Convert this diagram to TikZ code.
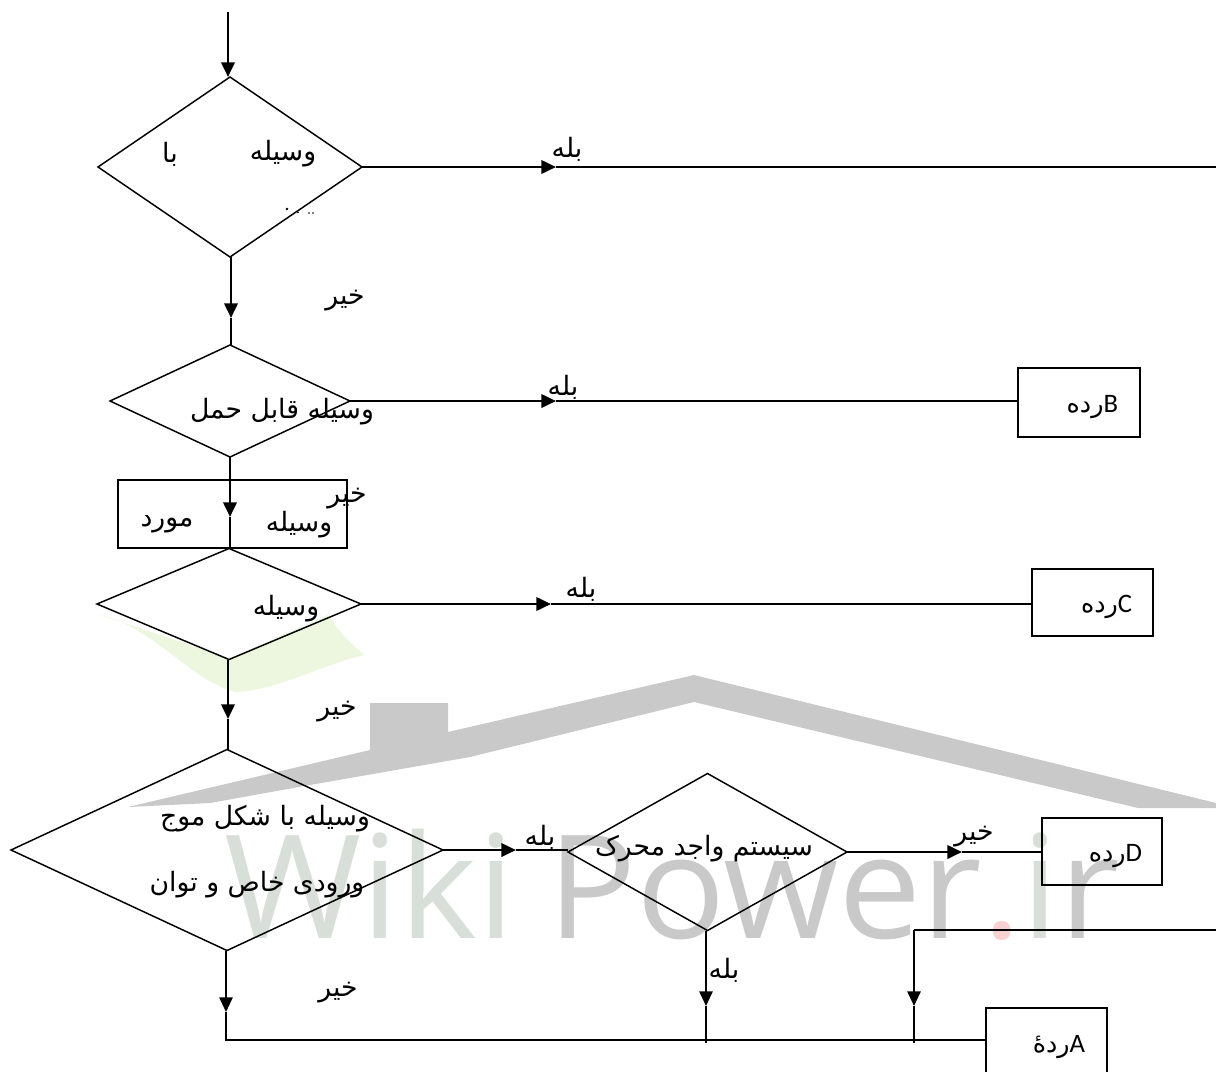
\documentclass[tikz,border=0pt]{standalone}
\usepackage{fontspec}
\usepackage{xcolor}
\usetikzlibrary{shapes.geometric,arrows.meta}
\TeXXeTstate=1
\newfontfamily\arabicfont[Script=Arabic]{DejaVu Sans}
\newfontfamily\latinbox{Carlito}
\newfontfamily\wmfont{Open Sans}
\definecolor{wmgray}{HTML}{C9C9C9}
\definecolor{wmgreen}{HTML}{D8DFD8}
\definecolor{wmred}{HTML}{F7D2D2}
\definecolor{wmleaf}{HTML}{EDF7DF}
\tikzset{
  dec/.style={shape=diamond,draw=black,line width=1.1pt,inner sep=0pt,outer sep=0pt},
  rbox/.style={shape=rectangle,draw=black,line width=1.2pt,inner sep=0pt,outer sep=0pt},
  ar/.style={inner sep=0pt,outer sep=0pt,font=\arabicfont\fontsize{20}{22}\selectfont},
  cl/.style={inner sep=0pt,outer sep=0pt,anchor=east,font=\latinbox\fontsize{20}{22}\selectfont},
  thk/.style={line width=2pt},
  thn/.style={line width=1.35pt},
  tip/.style={-{Triangle[length=11pt,width=10pt]}},
}
\newcommand{\rl}[1]{\beginR #1\endR}
\newcommand{\rada}[1]{{\arabicfont\fontsize{19}{22}\selectfont\rl{#1}}}
\begin{document}
\begin{tikzpicture}[x=0.75pt,y=-0.75pt]
\useasboundingbox (0,0) rectangle (1216,1071);
\clip (0,0) rectangle (1216,1071);
% watermark
\fill[wmleaf] (100,615) .. controls (150,625) and (190,680) .. (235,692) .. controls (280,690) and (320,665) .. (365,655) .. controls (345,640) and (335,625) .. (328,615) -- (230,658) -- cycle;
\fill[wmgray] (128,807) -- (370,750) -- (370,703) -- (448,703) -- (448,732) -- (694,675) -- (1216,803) -- (1216,808) -- (1138,808) -- (694,702) -- (470,757) -- (310,785) -- (210,803) -- cycle;
\node[anchor=base west,inner sep=0pt,text=wmgray] (wm) at (224,938)
  {\scalebox{1.03}[1]{\wmfont\fontsize{108}{120}\selectfont\textcolor{wmgreen}{Wiki}\kern 24pt Power\textcolor{wmred}{.}\textcolor{wmgreen}{i}r}};
% decisions
\node[dec,minimum width=264*0.75pt,minimum height=180*0.75pt] (d1) at (230,167) {};
\node[dec,minimum width=240*0.75pt,minimum height=112*0.75pt] (d2) at (230,401) {};
\node[dec,minimum width=264*0.75pt,minimum height=111*0.75pt] (d3) at (229,604) {};
\node[dec,minimum width=432*0.75pt,minimum height=201*0.75pt] (d4) at (227,850) {};
\node[dec,minimum width=279*0.75pt,minimum height=157*0.75pt] (d5) at (707.5,852) {};
% boxes
\node[rbox,minimum width=229*0.75pt,minimum height=68*0.75pt] (m) at (232.5,514) {};
\node[rbox,minimum width=122*0.75pt,minimum height=69*0.75pt] (bB) at (1079,402.5) {};
\node[rbox,minimum width=121*0.75pt,minimum height=67*0.75pt] (bC) at (1092.5,602.5) {};
\node[rbox,minimum width=120*0.75pt,minimum height=67*0.75pt] (bD) at (1102,851.5) {};
\node[rbox,minimum width=121*0.75pt,minimum height=72*0.75pt] (bA) at (1046.5,1044) {};
% free ends and arrow tips
\coordinate (start) at (228,12);
\coordinate (outR) at (1216,167);
\coordinate (outR2) at (1216,930);
\coordinate (corner) at (914,930);
\coordinate (t1) at (556,167);
\coordinate (t2) at (556,401);
\coordinate (t3) at (551,604);
\coordinate (t4) at (516,850);
\coordinate (t5) at (962,852);
\coordinate (v1) at (231,318);
\coordinate (v2) at (230,517);
\coordinate (v3) at (228,719);
\coordinate (v4) at (706,1006);
\coordinate (v5) at (914,1006);
\coordinate (v6) at (226,1012);
\coordinate (jA) at (706,1043);
\coordinate (jB) at (914,1043);
\coordinate (bus0) at (226,1040);
\coordinate (busE) at (986,1040);
% connectors
\draw[thk,tip] (start) -- (start |- d1.north);
\draw[thk,tip] (d1.east) -- (t1);
\draw[thn] (t1) -- (outR);
\draw[thk,tip] (d1.south -| v1) -- (v1);
\draw[thk] (v1) -- (d2.north -| v1);
\draw[thk,tip] (d2.east) -- (t2);
\draw[thn] (t2) -- (t2 -| bB.west);
\draw[thk,tip] (d2.south) -- (v2);
\draw[thk] (v2) -- (d3.north -| v2);
\draw[thk,tip] (d3.east) -- (t3);
\draw[thn] (t3) -- (t3 -| bC.west);
\draw[thk,tip] (d3.south -| v3) -- (v3);
\draw[thk] (v3) -- (d4.north -| v3);
\draw[thk,tip] (d4.east) -- (t4);
\draw[thn] (t4) -- (t4 -| d5.west);
\draw[thk,tip] (d5.east) -- (t5);
\draw[thn] (t5) -- (t5 -| bD.west);
\draw[thn,tip] (d5.south -| v4) -- (v4);
\draw[thn] (v4) -- (jA);
\draw[thn] (outR2) -- (corner);
\draw[thn,tip] (corner) -- (v5);
\draw[thn] (v5) -- (jB);
\draw[thn,tip] (d4.south -| v6) -- (v6);
\draw[thn] (v6) -- (bus0) -- (busE);
% clipped remnants of a hidden line of text in the first decision
\fill (287,209) circle[radius=1.4];
\fill (298,212.5) circle[radius=0.9];
\fill (309,213) circle[radius=0.9];
\fill (313,213) circle[radius=0.9];
% texts
\node[ar] (l1a) at (283,154) {\rl{وسیله}};
\node[ar] (l1b) at (170,154) {\rl{با}};
\node[ar] (l2) at (282,412) {\rl{وسیله قابل حمل}};
\node[ar] (l3a) at (299,525) {\rl{وسیله}};
\node[ar] (l3b) at (167,524) {\rl{مورد}};
\node[ar] (l4) at (286,609) {\rl{وسیله}};
\node[ar] (l5a) at (265,819) {\rl{وسیله با شکل موج}};
\node[ar] (l5b) at (257,885) {\rl{ورودی خاص و توان}};
\node[ar] (l6) at (704,849) {\rl{سیستم واجد محرک}};
\node[ar] (n1) at (345,301) {\rl{خیر}};
\node[ar] (n2) at (347,499) {\rl{خیر}};
\node[ar] (n3) at (337,712) {\rl{خیر}};
\node[ar] (n4) at (338,993) {\rl{خیر}};
\node[ar] (n5) at (974,837) {\rl{خیر}};
\node[ar] (y1) at (567,149) {\rl{بله}};
\node[ar] (y2) at (563,387) {\rl{بله}};
\node[ar] (y3) at (581,589) {\rl{بله}};
\node[ar] (y4) at (540,837) {\rl{بله}};
\node[ar] (y5) at (724,970) {\rl{بله}};
\node[cl] (cB) at (1118,407) {\rada{رده}B};
\node[cl] (cC) at (1132,607) {\rada{رده}C};
\node[cl] (cD) at (1142,856) {\rada{رده}D};
\node[cl] (cA) at (1085,1047) {\rada{ردهٔ}A};
\end{tikzpicture}
\end{document}
